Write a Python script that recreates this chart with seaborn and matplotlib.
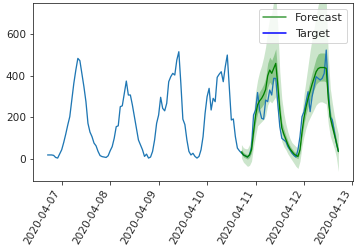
import numpy as np
import pandas as pd
import matplotlib
matplotlib.use("Agg")
import matplotlib.pyplot as plt
import matplotlib.dates as mdates
from matplotlib.lines import Line2D
import seaborn as sns

# ---------------- data ----------------
history_start = "2020-04-06 17:00"
forecast_start = "2020-04-10 17:00"

history = [
    20, 20, 20, 18, 8, 5, 25, 45, 80, 120,
    164, 204, 284, 364, 428, 484, 473, 412, 348, 276,
    172, 130, 108, 77, 64, 37, 17, 12, 10, 8,
    16, 40, 60, 100, 156, 160, 252, 256, 316, 375,
    308, 308, 260, 204, 148, 92, 68, 45, 13, 24,
    5, 10, 37, 92, 172, 212, 297, 244, 232, 268,
    372, 396, 412, 404, 476, 516, 364, 192, 166, 92,
    37, 20, 28, 13, 5, 13, 45, 108, 220, 300,
    340, 236, 292, 276, 393, 408, 420, 372, 444, 500,
    348, 188, 193, 108, 53, 40, 29, 20, 15, 10,
    20, 60, 212, 236, 320, 236, 196, 192, 284, 276,
    332, 308, 388, 388, 268, 156, 100, 92, 84, 60,
    45, 29, 18, 10, 45, 108, 204, 228, 276, 324,
    228, 300, 348, 396, 388, 380, 388, 412, 524, 332,
    204, 188, 132, 77, 37,
]

fc_median = [
    35, 20, 15, 10, 20, 45, 130, 210, 260, 280,
    292, 310, 335, 400, 428, 412, 436, 460, 356, 236,
    150, 120, 95, 70, 50, 37, 25, 18, 13, 45,
    130, 200, 250, 292, 325, 360, 390, 420, 435, 440,
    440, 440, 436, 292, 200, 160, 120, 80, 37,
]
fc_lo50 = [
    25, 10, 5, 0, 8, 30, 105, 175, 220, 240,
    250, 265, 285, 345, 370, 355, 375, 400, 305, 200,
    125, 100, 78, 55, 38, 25, 14, 7, 2, 30,
    105, 170, 215, 250, 280, 310, 335, 360, 370, 375,
    375, 375, 370, 250, 170, 135, 100, 62, 25,
]
fc_hi50 = [
    48, 32, 26, 22, 34, 65, 160, 245, 300, 325,
    340, 360, 390, 460, 490, 475, 500, 530, 410, 275,
    180, 145, 115, 88, 65, 50, 38, 30, 26, 62,
    158, 235, 290, 335, 375, 415, 450, 485, 505, 510,
    510, 510, 505, 340, 235, 190, 145, 100, 52,
]
fc_lo90 = [
    5, -15, -25, -35, -30, -10, 60, 110, 160, 170,
    180, 190, 210, 260, 280, 270, 285, 300, 220, 140,
    85, 60, 45, 25, 10, -5, -20, -35, -45, -10,
    60, 110, 150, 180, 200, 220, 240, 260, 270, 275,
    275, 270, 265, 170, 110, 80, 50, 10, -60,
]
fc_hi90 = [
    70, 55, 50, 50, 70, 110, 220, 320, 380, 420,
    450, 490, 540, 620, 680, 700, 760, 790, 640, 420,
    290, 220, 170, 130, 100, 80, 70, 60, 55, 100,
    220, 310, 380, 450, 520, 580, 630, 690, 740, 770,
    780, 780, 760, 500, 340, 270, 210, 160, 120,
]

legend_labels = ["Forecast", "Target"]
y_ticks = [0, 200, 400, 600]

# ---------------- plot ----------------
sns.set_style("ticks")
plt.rcParams["font.family"] = ["DejaVu Sans"]
TICK_FS = 10.5
LEG_FS = 11.3

fig, ax = plt.subplots(figsize=(359 / 72, 251 / 72), dpi=72)
fig.subplots_adjust(left=0.092, right=0.983, top=0.988, bottom=0.279)

t_hist = pd.date_range(history_start, periods=len(history), freq="h")
t_fc = pd.date_range(forecast_start, periods=len(fc_median), freq="h")

ax.fill_between(t_fc, fc_lo90, fc_hi90, color="g", alpha=0.2, lw=0)
ax.fill_between(t_fc, fc_lo50, fc_hi50, color="g", alpha=0.3, lw=0)
sns.lineplot(x=t_hist, y=history, ax=ax, color="#1f77b4", lw=1.3)
sns.lineplot(x=t_fc, y=fc_median, ax=ax, color="g", lw=1.3)

ax.set_xlabel("")
ax.set_ylabel("")
ax.set_ylim(-105, 750)
ax.set_yticks(y_ticks)
ax.xaxis.set_major_locator(mdates.DayLocator())
ax.xaxis.set_major_formatter(mdates.DateFormatter("%Y-%m-%d"))
ax.tick_params(labelsize=TICK_FS, colors="0.15")
plt.setp(ax.get_xticklabels(), rotation=60, ha="right", rotation_mode="default")

handles = [Line2D([], [], color="#3a9a3a", lw=1.5), Line2D([], [], color="b", lw=1.5)]
ax.legend(handles, legend_labels, loc="upper right", frameon=True, fontsize=LEG_FS)

fig.savefig("out.png", dpi=72)
